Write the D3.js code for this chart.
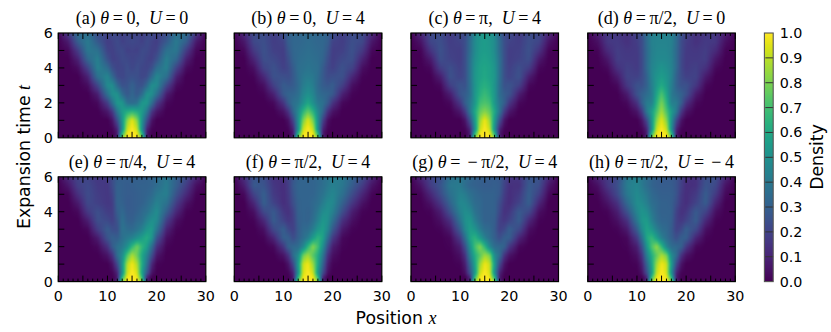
<!DOCTYPE html>
<html><head><meta charset="utf-8">
<script src="https://cdn.jsdelivr.net/npm/d3@7"></script>
<style>html,body{margin:0;padding:0;background:#fff}svg{display:block}</style>
</head><body><svg id="c" width="831" height="332"></svg>
<script>
const positions=[0,2,4,6,8,10,11,12,13,14,15,16,17,18,19,20,22,24,26,28,30];
const times=[6,5.5,5,4.5,4,3.5,3,2.5,2,1.5,1,0.5,0.25,0];
const densityA=[
[1,17,36,37,23,20,23,21,19,21,20,21,19,21,23,20,23,37,36,17,1],
[0,7,30,41,28,18,20,23,19,21,22,21,19,23,20,18,28,41,30,7,0],
[0,2,18,40,37,20,19,22,23,19,20,19,23,22,19,20,37,40,18,2,0],
[0,0,9,33,43,25,19,20,23,22,20,22,23,20,19,25,43,33,9,0,0],
[0,0,3,20,44,35,24,20,21,24,21,24,21,20,24,35,44,20,3,0,0],
[0,0,0,9,37,46,34,23,21,24,25,24,21,23,34,46,37,9,0,0,0],
[0,0,0,3,21,48,49,34,25,26,31,26,25,34,49,48,21,3,0,0,0],
[0,0,0,0,8,37,50,51,35,27,33,27,35,51,50,37,8,0,0,0,0],
[0,0,0,0,2,18,37,54,53,37,34,37,53,54,37,18,2,0,0,0,0],
[0,0,0,0,0,6,16,40,55,62,66,62,55,40,16,6,0,0,0,0,0],
[0,0,0,0,0,0,5,24,52,82,96,82,52,24,5,0,0,0,0,0,0],
[0,0,0,0,0,0,1,10,50,92,100,92,50,10,1,0,0,0,0,0,0],
[0,0,0,0,0,0,0,6,65,98,100,98,65,6,0,0,0,0,0,0,0],
[0,0,0,0,0,0,0,10,85,100,100,100,85,10,0,0,0,0,0,0,0]];
const densityB=[
[1,12,23,23,18,24,31,33,33,34,34,34,33,33,31,24,18,23,23,12,1],
[0,6,22,24,18,20,30,33,33,34,35,34,33,33,30,20,18,24,22,6,0],
[0,2,17,25,19,18,27,33,34,35,36,35,34,33,27,18,19,25,17,2,0],
[0,0,10,24,22,18,24,32,35,36,37,36,35,32,24,18,22,24,10,0,0],
[0,0,4,20,25,19,22,29,36,37,39,37,36,29,22,19,25,20,4,0,0],
[0,0,1,11,25,24,23,28,35,40,41,40,35,28,23,24,25,11,1,0,0],
[0,0,0,4,19,29,27,29,34,42,46,42,34,29,27,29,19,4,0,0,0],
[0,0,0,1,9,28,32,33,36,46,50,46,36,33,32,28,9,1,0,0,0],
[0,0,0,0,2,15,29,37,40,50,59,50,40,37,29,15,2,0,0,0,0],
[0,0,0,0,0,5,14,33,47,65,76,65,47,33,14,5,0,0,0,0,0],
[0,0,0,0,0,0,4,20,50,80,95,80,50,20,4,0,0,0,0,0,0],
[0,0,0,0,0,0,1,10,50,92,100,92,50,10,1,0,0,0,0,0,0],
[0,0,0,0,0,0,0,6,65,98,100,98,65,6,0,0,0,0,0,0,0],
[0,0,0,0,0,0,0,10,85,100,100,100,85,10,0,0,0,0,0,0,0]];
const densityC=[
[1,11,22,23,17,23,22,32,48,53,54,53,48,32,22,23,17,23,22,11,1],
[0,5,21,24,18,20,24,35,48,53,55,53,48,35,24,20,18,24,21,5,0],
[0,1,15,25,19,18,24,35,48,54,55,54,48,35,24,18,19,25,15,1,0],
[0,0,7,24,20,18,24,37,50,55,57,55,50,37,24,18,20,24,7,0,0],
[0,0,2,18,24,19,24,37,52,57,59,57,52,37,24,19,24,18,2,0,0],
[0,0,0,8,25,20,24,37,53,57,60,57,53,37,24,20,25,8,0,0,0],
[0,0,0,2,19,26,25,36,52,60,63,60,52,36,25,26,19,2,0,0,0],
[0,0,0,0,8,26,29,35,53,63,68,63,53,35,29,26,8,0,0,0,0],
[0,0,0,0,2,16,30,39,53,69,72,69,53,39,30,16,2,0,0,0,0],
[0,0,0,0,0,6,17,39,60,76,82,76,60,39,17,6,0,0,0,0,0],
[0,0,0,0,0,0,5,24,55,85,98,85,55,24,5,0,0,0,0,0,0],
[0,0,0,0,0,0,1,10,50,92,100,92,50,10,1,0,0,0,0,0,0],
[0,0,0,0,0,0,0,6,65,98,100,98,65,6,0,0,0,0,0,0,0],
[0,0,0,0,0,0,0,10,85,100,100,100,85,10,0,0,0,0,0,0,0]];
const densityD=[
[1,8,16,16,14,20,25,36,43,45,45,45,43,36,25,20,14,16,16,8,1],
[0,4,16,17,14,18,23,35,44,45,45,45,44,35,23,18,14,17,16,4,0],
[0,1,12,18,16,17,23,34,43,46,46,46,43,34,23,17,16,18,12,1,0],
[0,0,6,18,17,17,22,34,44,47,47,47,44,34,22,17,17,18,6,0,0],
[0,0,2,14,19,17,22,34,45,49,52,49,45,34,22,17,19,14,2,0,0],
[0,0,0,7,20,19,23,31,45,52,55,52,45,31,23,19,20,7,0,0,0],
[0,0,0,2,16,25,25,31,43,54,61,54,43,31,25,25,16,2,0,0,0],
[0,0,0,0,7,25,31,35,41,59,72,59,41,35,31,25,7,0,0,0,0],
[0,0,0,0,2,14,30,42,43,65,80,65,43,42,30,14,2,0,0,0,0],
[0,0,0,0,0,5,16,41,55,72,87,72,55,41,16,5,0,0,0,0,0],
[0,0,0,0,0,0,5,22,52,82,96,82,52,22,5,0,0,0,0,0,0],
[0,0,0,0,0,0,1,10,50,92,100,92,50,10,1,0,0,0,0,0,0],
[0,0,0,0,0,0,0,6,65,98,100,98,65,6,0,0,0,0,0,0,0],
[0,0,0,0,0,0,0,10,85,100,100,100,85,10,0,0,0,0,0,0,0]];
const densityE=[
[1,12,20,20,16,17,24,29,30,30,30,30,30,31,32,34,40,31,23,11,1],
[0,6,19,22,17,16,23,31,30,29,30,31,31,31,32,35,42,30,18,4,0],
[0,1,14,23,18,16,20,32,30,29,29,30,31,32,34,40,43,25,12,1,0],
[0,0,7,22,19,16,18,32,31,28,29,30,31,34,38,44,38,18,5,0,0],
[0,0,2,17,24,18,18,30,34,29,29,31,34,37,43,49,30,11,1,0,0],
[0,0,0,8,24,22,19,26,37,31,30,34,36,44,50,48,19,4,0,0,0],
[0,0,0,2,18,29,24,24,38,35,34,38,43,52,55,40,10,1,0,0,0],
[0,0,0,0,7,26,31,29,37,41,44,50,56,62,53,26,4,0,0,0,0],
[0,0,0,0,2,14,29,37,41,50,66,78,66,56,36,14,1,0,0,0,0],
[0,0,0,0,0,5,14,36,48,72,88,78,60,45,24,6,0,0,0,0,0],
[0,0,0,0,0,0,5,22,52,88,98,88,62,38,11,1,0,0,0,0,0],
[0,0,0,0,0,0,1,10,50,92,100,94,58,28,5,0,0,0,0,0,0],
[0,0,0,0,0,0,0,6,65,98,100,98,68,10,0,0,0,0,0,0,0],
[0,0,0,0,0,0,0,10,85,100,100,100,85,10,0,0,0,0,0,0,0]];
const densityF=[
[1,14,26,24,14,14,20,26,31,32,32,32,34,36,38,42,41,32,24,11,1],
[0,8,28,26,16,13,18,28,32,32,32,32,34,36,40,43,40,29,18,5,0],
[0,2,20,30,17,13,17,26,32,32,32,32,35,38,43,46,37,23,11,1,0],
[0,0,11,30,20,13,16,24,31,32,32,34,36,42,48,47,31,16,5,0,0],
[0,0,4,22,28,16,14,20,31,32,31,34,40,48,50,44,24,8,1,0,0],
[0,0,1,11,29,20,16,19,30,32,31,36,44,53,50,37,14,4,0,0,0],
[0,0,0,4,22,30,22,19,29,34,35,42,52,56,47,28,7,1,0,0,0],
[0,0,0,1,10,30,30,23,30,36,42,55,65,58,36,17,2,0,0,0,0],
[0,0,0,0,2,16,31,34,35,46,66,82,70,50,24,8,1,0,0,0,0],
[0,0,0,0,0,5,14,36,48,78,86,74,62,40,14,4,0,0,0,0,0],
[0,0,0,0,0,0,5,22,55,92,98,85,60,32,8,1,0,0,0,0,0],
[0,0,0,0,0,0,1,10,52,94,100,92,54,24,4,0,0,0,0,0,0],
[0,0,0,0,0,0,0,6,65,98,100,98,68,10,0,0,0,0,0,0,0],
[0,0,0,0,0,0,0,10,85,100,100,100,85,10,0,0,0,0,0,0,0]];
const densityG=[
[1,11,20,24,37,40,36,34,31,30,29,29,29,28,22,16,16,26,26,12,1],
[0,5,18,26,40,41,36,32,31,30,29,29,30,29,20,14,14,28,24,6,0],
[0,1,11,23,37,44,42,37,34,32,31,31,31,28,18,13,17,30,19,2,0],
[0,0,5,16,32,47,46,41,35,34,31,31,31,24,16,13,20,30,11,0,0],
[0,0,1,8,25,44,49,47,38,34,31,31,31,22,14,16,28,22,4,0,0],
[0,0,0,4,14,38,50,53,43,36,31,31,30,19,16,20,29,11,1,0,0],
[0,0,0,1,7,29,47,56,52,42,35,34,29,19,22,30,22,4,0,0,0],
[0,0,0,0,2,17,36,58,65,55,43,36,30,24,30,30,10,1,0,0,0],
[0,0,0,0,1,8,24,50,70,82,66,46,35,34,31,16,2,0,0,0,0],
[0,0,0,0,0,4,14,42,62,74,86,80,48,36,14,5,0,0,0,0,0],
[0,0,0,0,0,1,8,32,58,85,98,92,55,22,5,0,0,0,0,0,0],
[0,0,0,0,0,0,4,24,54,92,100,94,50,10,1,0,0,0,0,0,0],
[0,0,0,0,0,0,0,10,68,98,100,98,65,6,0,0,0,0,0,0,0],
[0,0,0,0,0,0,0,10,85,100,100,100,85,10,0,0,0,0,0,0,0]];
const densityH=[
[1,10,17,22,40,44,40,36,32,30,28,28,28,26,20,14,14,24,24,11,1],
[0,4,16,24,42,46,41,36,32,30,29,29,29,26,19,13,14,26,22,5,0],
[0,1,10,22,40,48,44,40,34,32,30,30,30,26,17,13,17,29,17,2,0],
[0,0,5,14,34,49,48,43,36,34,31,31,30,24,16,13,20,29,10,0,0],
[0,0,1,8,25,46,52,49,40,34,31,31,31,20,14,16,28,20,4,0,0],
[0,0,0,4,14,40,53,55,44,36,32,32,30,19,16,20,29,11,1,0,0],
[0,0,0,1,7,29,48,58,53,43,36,34,29,19,22,30,22,4,0,0,0],
[0,0,0,0,2,17,36,60,67,56,43,36,30,24,30,30,10,1,0,0,0],
[0,0,0,0,1,8,24,52,72,84,67,46,35,34,31,16,2,0,0,0,0],
[0,0,0,0,0,4,14,43,62,76,88,80,48,36,14,5,0,0,0,0,0],
[0,0,0,0,0,1,8,32,58,86,98,92,55,22,5,0,0,0,0,0,0],
[0,0,0,0,0,0,4,24,54,92,100,94,50,10,1,0,0,0,0,0,0],
[0,0,0,0,0,0,0,10,68,98,100,98,65,6,0,0,0,0,0,0,0],
[0,0,0,0,0,0,0,10,85,100,100,100,85,10,0,0,0,0,0,0,0]];
const panelLetters=["a","b","c","d","e","f","g","h"];
const panelAngles=["0","0","π","π/2","π/4","π/2","\u2009−\u2009π/2","π/2"];
const panelU=["0","4","4","0","4","4","4","\u2009−\u20094"];
const panelData=[densityA,densityB,densityC,densityD,densityE,densityF,densityG,densityH];
const xTickLabels=[0,10,20,30];
const yTickLabels=[0,2,4,6];
const colorbarTicks=[0,0.1,0.2,0.3,0.4,0.5,0.6,0.7,0.8,0.9,1];

const svg=d3.select("#c");
const lefts=[58.3,234.3,411,587.8], tops=[33,176.8];
const pw=147.5, ph=104.8;
const color=d3.scaleSequential([0,1],d3.interpolateViridis);
const sans="'DejaVu Sans'", serif="'Liberation Serif'";

function sample(grid,x,t){
  const ti=Math.min(times.length-2,Math.max(0,d3.bisector(d=>-d).left(times,-t)-1));
  const xi=Math.min(positions.length-2,Math.max(0,d3.bisectRight(positions,x)-1));
  const fx=(x-positions[xi])/(positions[xi+1]-positions[xi]);
  const ft=(times[ti]-t)/(times[ti]-times[ti+1]);
  const a=d3.interpolateNumber(grid[ti][xi],grid[ti][xi+1])(fx);
  const b=d3.interpolateNumber(grid[ti+1][xi],grid[ti+1][xi+1])(fx);
  return d3.interpolateNumber(a,b)(ft)/100;
}
function heatmap(grid,xs,ys){
  const W=Math.round(pw),H=Math.round(ph);
  let v=new Float64Array(W*H);
  for(let j=0;j<H;j++)for(let i=0;i<W;i++)
    v[j*W+i]=sample(grid,xs.invert(xs.range()[0]+(i+.5)*pw/W),ys.invert(ys.range()[1]+(j+.5)*ph/H));
  const blur=(src)=>{const o=new Float64Array(W*H);
    for(let j=0;j<H;j++)for(let i=0;i<W;i++){let s=0,n=0;
      for(let dj=-1;dj<=1;dj++)for(let di=-1;di<=1;di++){
        const a=i+di,b=j+dj; if(a<0||a>=W||b<0||b>=H)continue; s+=src[b*W+a];n++;}
      o[j*W+i]=s/n;}
    return o;};
  v=blur(v);
  const cv=document.createElement("canvas");cv.width=W;cv.height=H;
  const ctx=cv.getContext("2d"),img=ctx.createImageData(W,H);
  for(let k=0;k<W*H;k++){const c=d3.rgb(color(v[k]));
    img.data[4*k]=c.r;img.data[4*k+1]=c.g;img.data[4*k+2]=c.b;img.data[4*k+3]=255;}
  ctx.putImageData(img,0,0);
  return cv.toDataURL();
}
panelData.forEach((grid,idx)=>{
  const col=idx%4,row=Math.floor(idx/4);
  const L=lefts[col],T=tops[row];
  const xs=d3.scaleLinear([0,30],[L,L+pw]);
  const ys=d3.scaleLinear([0,6],[T+ph,T]);
  svg.append("image").attr("x",L).attr("y",T).attr("width",pw).attr("height",ph)
    .attr("preserveAspectRatio","none").attr("href",heatmap(grid,xs,ys));
  const g=svg.append("g").attr("stroke","#000").attr("fill","none");
  d3.range(0,31).forEach(v=>{const len=v%5===0?6:3;
    g.append("line").attr("x1",xs(v)).attr("x2",xs(v)).attr("y1",T+ph).attr("y2",T+ph-len).attr("stroke-width",1);
    g.append("line").attr("x1",xs(v)).attr("x2",xs(v)).attr("y1",T).attr("y2",T+len).attr("stroke-width",1);});
  d3.range(1,6).forEach(v=>{
    g.append("line").attr("x1",L).attr("x2",L+6).attr("y1",ys(v)).attr("y2",ys(v)).attr("stroke-width",1);
    g.append("line").attr("x1",L+pw).attr("x2",L+pw-6).attr("y1",ys(v)).attr("y2",ys(v)).attr("stroke-width",1);});
  g.append("rect").attr("x",L).attr("y",T).attr("width",pw).attr("height",ph).attr("stroke-width",1.2);
  if(row===1) xTickLabels.forEach(v=>svg.append("text").attr("x",xs(v)).attr("y",T+ph+19.4)
    .attr("text-anchor","middle").attr("font-family",sans).attr("font-size",14.3).text(v));
  if(col===0) yTickLabels.forEach(v=>svg.append("text").attr("x",L-5.5).attr("y",ys(v)+5)
    .attr("text-anchor","end").attr("font-family",sans).attr("font-size",14.3).text(v));
  const t=svg.append("text").attr("x",L+pw/2).attr("y",T-9).attr("text-anchor","middle")
    .attr("font-family",serif).attr("font-size",18);
  t.append("tspan").text(`(${panelLetters[idx]}) `);
  t.append("tspan").attr("font-style","italic").text("θ");
  t.append("tspan").text(`\u2009=\u2009${panelAngles[idx]},\u2002`);
  t.append("tspan").attr("font-style","italic").text("U");
  t.append("tspan").text(`\u2009=\u2009${panelU[idx]}`);
});
// colorbar
const cbX=764.4,cbW=8.8;
const cy=d3.scaleLinear([0,1],[tops[1]+ph,tops[0]]);
const cbCv=document.createElement("canvas");cbCv.width=1;cbCv.height=250;
const cbCtx=cbCv.getContext("2d");
d3.range(250).forEach(i=>{cbCtx.fillStyle=color(1-(i+.5)/250);cbCtx.fillRect(0,i,1,1);});
svg.append("image").attr("x",cbX).attr("y",cy(1)).attr("width",cbW).attr("height",cy(0)-cy(1))
  .attr("preserveAspectRatio","none").attr("href",cbCv.toDataURL());
colorbarTicks.forEach(v=>{
  if(v>0&&v<1) svg.append("line").attr("x1",cbX+cbW).attr("x2",cbX+1).attr("y1",cy(v)).attr("y2",cy(v))
    .attr("stroke","#333").attr("stroke-width",1);
  svg.append("text").attr("x",cbX+cbW+6.5).attr("y",cy(v)+5).attr("font-family",sans).attr("font-size",14.3).text(v.toFixed(1));
});
svg.append("rect").attr("x",cbX).attr("y",cy(1)).attr("width",cbW).attr("height",cy(0)-cy(1))
  .attr("fill","none").attr("stroke","#555").attr("stroke-width",1.1);
// axis labels
const xl=svg.append("text").attr("x",396).attr("y",324).attr("text-anchor","middle")
  .attr("font-family",sans).attr("font-size",17.3);
xl.append("tspan").text("Position ");
xl.append("tspan").attr("font-family",serif).attr("font-style","italic").attr("font-size",18).text("x");
const yl=svg.append("text").attr("transform","translate(30,157) rotate(-90)").attr("text-anchor","middle")
  .attr("font-family",sans).attr("font-size",17.3);
yl.append("tspan").text("Expansion time ");
yl.append("tspan").attr("font-family",serif).attr("font-style","italic").attr("font-size",18).text("t");
svg.append("text").attr("transform","translate(823,157) rotate(-90)").attr("text-anchor","middle")
  .attr("font-family",sans).attr("font-size",17.3).text("Density");
</script></body></html>
